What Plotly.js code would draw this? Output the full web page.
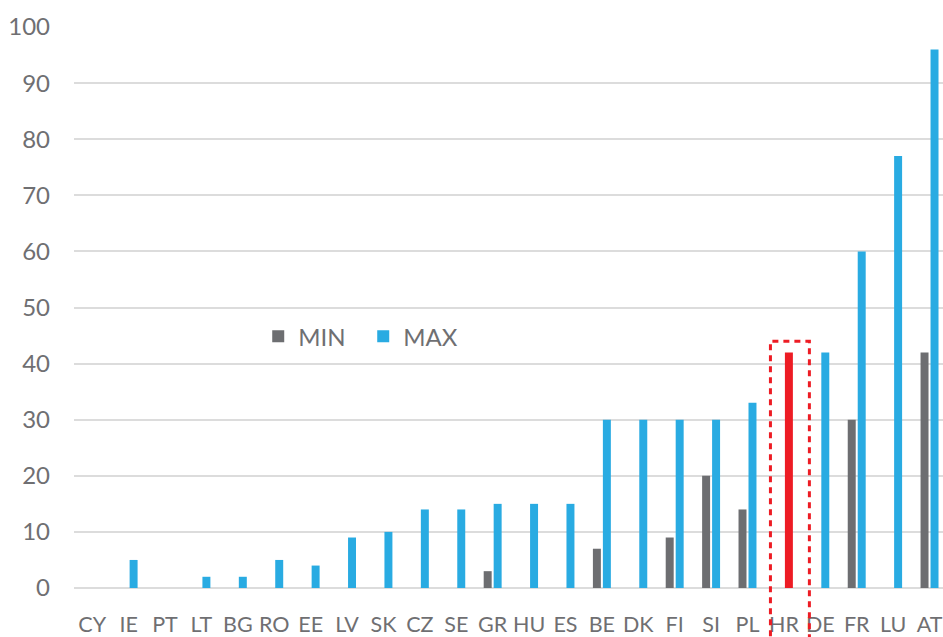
<!DOCTYPE html>
<html>
<head>
<meta charset="utf-8">
<script src="https://cdn.plot.ly/plotly-3.0.1.min.js"></script>
<style>html,body{margin:0;padding:0;background:#fff;}#chart{width:943px;height:637px;}</style>
</head>
<body>
<div id="chart"></div>
<script>
var categories = ["CY","IE","PT","LT","BG","RO","EE","LV","SK","CZ","SE","GR","HU","ES","BE","DK","FI","SI","PL","HR","DE","FR","LU","AT"];
var minValues  = [null,null,null,null,null,null,null,null,null,null,null,3,null,null,7,null,9,20,14,null,null,30,null,42];
var maxValues  = [0,5,0,2,2,5,4,9,10,14,14,15,15,15,30,30,30,30,33,42,42,60,77,96];
var highlight = "HR";
var yTicks = [0,10,20,30,40,50,60,70,80,90,100];

var grey = "#6d6e71", blue = "#29abe2", red = "#ed1c24", textGrey = "#6f6f72";
var maxColors = categories.map(function(c){ return c === highlight ? red : blue; });
var hi = categories.indexOf(highlight);

var traces = [
  {type:"bar", name:"MIN", x:categories, y:minValues, marker:{color:grey}},
  {type:"bar", name:"MAX", x:categories, y:maxValues, marker:{color:maxColors}}
];

var layout = {
  width:943, height:637,
  margin:{l:74, r:0, t:27, b:49, pad:0},
  paper_bgcolor:"#fff", plot_bgcolor:"#fff",
  font:{family:"Lato, 'Open Sans', sans-serif", color:textGrey},
  barmode:"group", bargap:0.452, bargroupgap:0.2,
  showlegend:true,
  legend:{orientation:"h", x:0.212, y:0.448, xanchor:"left", yanchor:"middle",
          font:{size:24, color:textGrey}, bgcolor:"rgba(0,0,0,0)",
          entrywidth:60, entrywidthmode:"pixels", traceorder:"normal"},
  xaxis:{type:"category", range:[-0.5, 23.37], showgrid:false, zeroline:false,
         showline:false, ticks:"", tickfont:{size:21.5, color:textGrey},
         ticklabelstandoff:21, fixedrange:true},
  yaxis:{range:[0,100], tickvals:yTicks, ticktext:yTicks.map(String),
         showgrid:true, gridcolor:"#dcdcdc", gridwidth:2,
         zeroline:true, zerolinecolor:"#dcdcdc", zerolinewidth:2,
         showline:false, ticks:"", tickfont:{size:24, color:textGrey},
         ticklabelstandoff:23, fixedrange:true},
  shapes:[{type:"rect", xref:"x", yref:"paper",
           x0:hi-0.37, x1:hi+0.70, y0:-0.2, y1:0.44,
           line:{color:red, width:3, dash:"6px,5px"}, fillcolor:"rgba(0,0,0,0)", layer:"above"}]
};

Plotly.newPlot("chart", traces, layout, {displayModeBar:false, staticPlot:true});
</script>
</body>
</html>
